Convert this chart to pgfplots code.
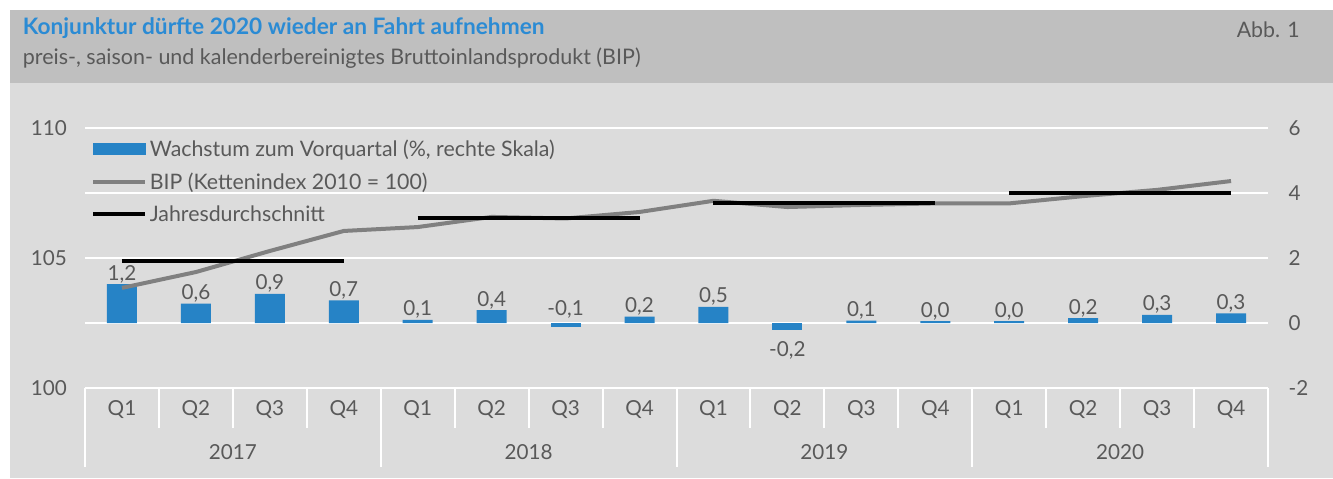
\documentclass[border=0pt]{standalone}
\usepackage{pgfplots}
\pgfplotsset{compat=1.18}
\usepackage{pgfplotstable}
\usepackage{fontspec}
\setmainfont{Lato}
\definecolor{hdr}{HTML}{BFBFBF}
\definecolor{bg}{HTML}{DCDCDC}
\definecolor{txt}{HTML}{595959}
\definecolor{ttl}{HTML}{2B8BD4}
\definecolor{barblue}{HTML}{2683C6}
\definecolor{bipgray}{HTML}{808080}
\newcommand{\lf}{\fontsize{15.5}{18}\selectfont}
\newcommand{\lgf}{\fontsize{16}{18}\selectfont}

\pgfplotstableread{
x y label
0 1.2 {1,2}
1 0.6 {0,6}
2 0.9 {0,9}
3 0.7 {0,7}
4 0.1 {0,1}
5 0.4 {0,4}
7 0.2 {0,2}
8 0.5 {0,5}
10 0.07 {0,1}
11 0.06 {0,0}
12 0.06 {0,0}
13 0.15 {0,2}
14 0.25 {0,3}
15 0.3 {0,3}
}\barsA
\pgfplotstableread{
x y label
6 -0.12 {-0,1}
}\barsB
\pgfplotstableread{
x y label
9 -0.22 {-0,2}
}\barsC
\pgfplotstableread{
x bip
0 103.85
1 104.46
2 105.27
3 106.04
4 106.19
5 106.58
6 106.52
7 106.77
8 107.20
9 106.96
10 107.04
11 107.10
12 107.10
13 107.38
14 107.62
15 107.96
}\bip

\begin{document}
\begin{tikzpicture}
\useasboundingbox (0,0) rectangle (999.75pt,358.5pt);
\fill[white] (0,0) rectangle (999.75pt,358.5pt);
\fill[bg] (7.5pt,0) rectangle (999.75pt,296.25pt);
\fill[hdr] (7.5pt,296.25pt) rectangle (999.75pt,351pt);
\node[anchor=base west, inner sep=0, text=ttl, font=\fontsize{17}{20}\selectfont\bfseries] at (17pt,332.25pt) {Konjunktur dürfte 2020 wieder an Fahrt aufnehmen};
\node[anchor=base west, inner sep=0, text=txt, font=\fontsize{16.1}{19}\selectfont] at (17pt,310pt) {preis-, saison- und kalenderbereinigtes Bruttoinlandsprodukt (BIP)};
\node[anchor=base east, inner sep=0, text=txt, font=\fontsize{16}{19}\selectfont] at (975pt,330pt) {Abb. 1};

\begin{axis}[
  at={(63.75pt,67.5pt)}, anchor=south west,
  width=887.25pt, height=195pt, scale only axis,
  xmin=-0.5, xmax=15.5, ymin=-2, ymax=6,
  axis y line*=right, axis x line*=bottom,
  axis line style={draw=none},
  ytick={-2,0,2,4,6}, yticklabels={-2,0,2,4,6},
  ymajorgrids, grid style={white, line width=1.5pt},
  major tick length=0pt,
  xtick={0,...,15},
  xticklabels={Q1,Q2,Q3,Q4,Q1,Q2,Q3,Q4,Q1,Q2,Q3,Q4,Q1,Q2,Q3,Q4},
  xticklabel style={anchor=center, yshift=-16.5pt},
  yticklabel style={anchor=west, xshift=12pt},
  tick label style={font=\lf, text=txt},
  clip=false,
  ybar, bar width=22.5pt, bar shift=0pt,
  point meta=explicit symbolic,
]
\addplot[fill=barblue, draw=none, nodes near coords, every node near coord/.style={anchor=base, inner sep=0pt, yshift=3pt, font=\lf, text=txt}] table[x=x,y=y,meta=label] {\barsA};
\addplot[fill=barblue, draw=none, nodes near coords, every node near coord/.style={anchor=base, inner sep=0pt, yshift=8.5pt, font=\lf, text=txt}] table[x=x,y=y,meta=label] {\barsB};
\addplot[fill=barblue, draw=none, nodes near coords, every node near coord/.style={anchor=base, inner sep=0pt, yshift=-19.5pt, font=\lf, text=txt}] table[x=x,y=y,meta=label] {\barsC};
\pgfplotsinvokeforeach{0.5,1.5,2.5,4.5,5.5,6.5,8.5,9.5,10.5,12.5,13.5,14.5}{
  \draw[white, line width=1.5pt] (axis cs:#1,-2) -- ([yshift=-30pt]axis cs:#1,-2);
}
\pgfplotsinvokeforeach{-0.5,3.5,7.5,11.5,15.5}{
  \draw[white, line width=1.5pt] (axis cs:#1,-2) -- ([yshift=-59.25pt]axis cs:#1,-2);
}
\node[text=txt, font=\lf] at (axis cs:1.5,-2) [yshift=-48pt] {2017};
\node[text=txt, font=\lf] at (axis cs:5.5,-2) [yshift=-48pt] {2018};
\node[text=txt, font=\lf] at (axis cs:9.5,-2) [yshift=-48pt] {2019};
\node[text=txt, font=\lf] at (axis cs:13.5,-2) [yshift=-48pt] {2020};
\end{axis}

\begin{axis}[
  at={(63.75pt,67.5pt)}, anchor=south west,
  width=887.25pt, height=195pt, scale only axis,
  xmin=-0.5, xmax=15.5, ymin=100, ymax=110,
  axis y line*=left, axis x line=none,
  axis line style={draw=none},
  ytick={100,105,110}, yticklabels={100,105,110},
  major tick length=0pt,
  yticklabel style={anchor=east, xshift=-10pt},
  tick label style={font=\lf, text=txt},
  clip=false,
  legend style={at={(0.005,0.966)}, anchor=north west, draw=none, fill=none,
    font=\lgf, text=txt, cells={anchor=west}, row sep=6.75pt, inner sep=0pt},
]
\addlegendimage{legend image code/.code={\fill[barblue] (0pt,-4pt) rectangle (39pt,4pt);}}
\addlegendentry{Wachstum zum Vorquartal (\%, rechte Skala)}
\addplot[bipgray, line width=3pt, legend image code/.code={\draw[bipgray, line width=3pt] (0pt,0pt) -- (39pt,0pt);}] table[x=x,y=bip] {\bip};
\addlegendentry{BIP (Kettenindex 2010 = 100)}
\addplot[black, line width=3pt, legend image code/.code={\draw[black, line width=3pt] (0pt,0pt) -- (39pt,0pt);}] coordinates {(0,104.88) (3,104.88)};
\addlegendentry{Jahresdurchschnitt}
\addplot[black, line width=3pt, forget plot] coordinates {(4,106.54) (7,106.54)};
\addplot[black, line width=3pt, forget plot] coordinates {(8,107.12) (11,107.12)};
\addplot[black, line width=3pt, forget plot] coordinates {(12,107.50) (15,107.50)};
\end{axis}
\end{tikzpicture}
\end{document}
